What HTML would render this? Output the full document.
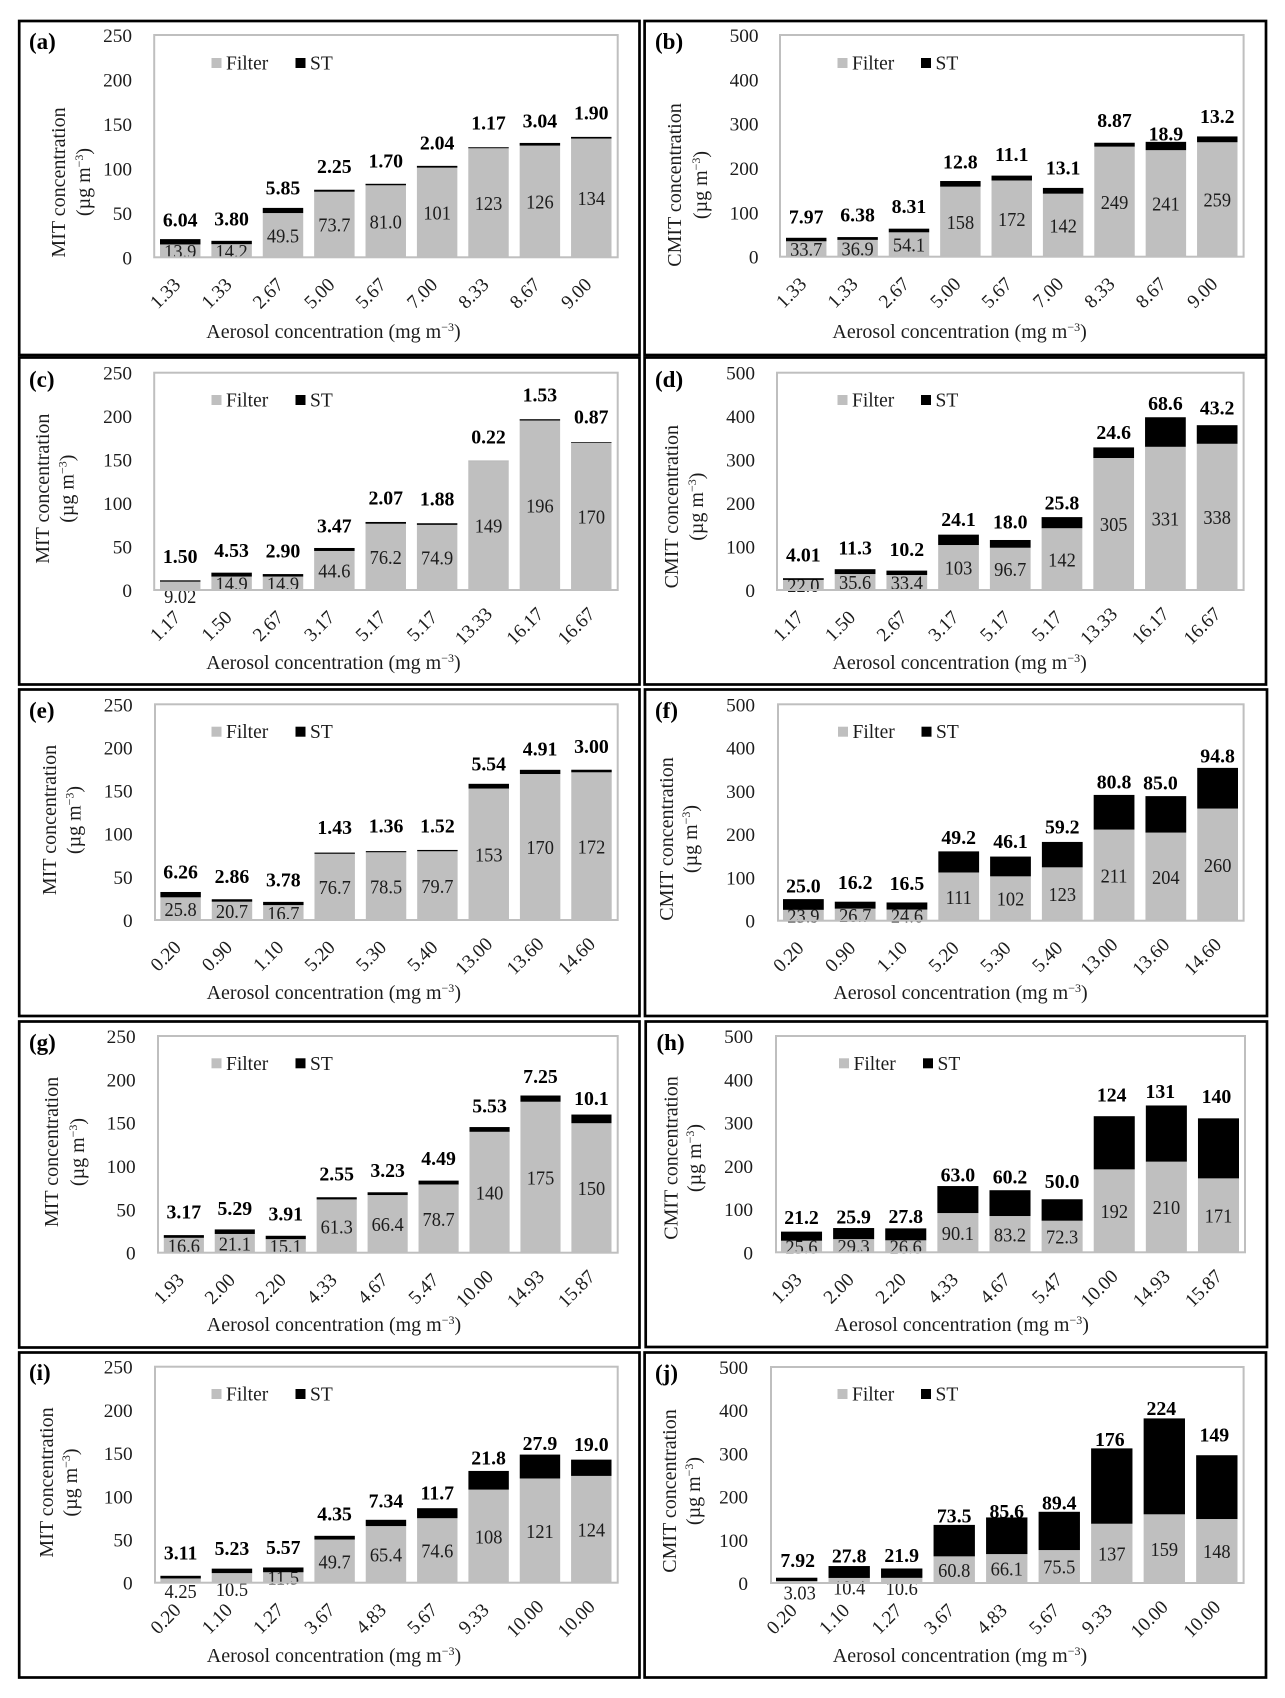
<!DOCTYPE html>
<html lang="en">
<head>
<meta charset="utf-8">
<title>MIT and CMIT concentration versus aerosol concentration</title>
<style>
html,body{margin:0;padding:0;background:#fff;width:1285px;height:1698px;overflow:hidden}
svg{display:block;font-family:"Liberation Serif","Times New Roman",serif;fill:#1c1c1c;filter:blur(0.35px)}
.box{fill:#fff;stroke:#000;stroke-width:2.7}
.letter{font-size:23px;font-weight:bold;fill:#000}
.legend{font-size:19.5px}
.title{font-size:20px}
.title tspan.sup{font-size:12px}
.tick{font-size:19.3px}
.flabel{font-size:20px;text-anchor:middle}
.slabel{font-size:19.8px;font-weight:bold;text-anchor:middle;fill:#000}
</style>
</head>
<body>
<svg id="figure" xmlns="http://www.w3.org/2000/svg" width="1285" height="1698" viewBox="0 0 1285 1698">
<rect width="1285" height="1698" fill="#fff"/>

<g id="panel-a">
<rect class="box" x="19.2" y="21" width="620.3" height="334"/>
<text class="letter" x="29" y="49">(a)</text>
<g><rect x="211.5" y="58" width="10" height="10" fill="#bfbfbf"/><text class="legend" x="226" y="69.5">Filter</text><rect x="295.5" y="58" width="10" height="10" fill="#000"/><text class="legend" x="310" y="69.5">ST</text></g>
<text class="title" x="333.5" y="338" text-anchor="middle">Aerosol concentration (mg m<tspan class="sup" dy="-7">−3</tspan><tspan dy="7">)</tspan></text>
<text class="title" transform="translate(65,182.5) rotate(-90)" text-anchor="middle">MIT concentration</text>
<text class="title" transform="translate(90,182) rotate(-90)" text-anchor="middle">(µg m<tspan class="sup" dy="-7">−3</tspan><tspan dy="7">)</tspan></text>
</g>

<g id="panel-b">
<rect class="box" x="644.6" y="21" width="621.4" height="334"/>
<text class="letter" x="655" y="49">(b)</text>
<g><rect x="837.5" y="58" width="10" height="10" fill="#bfbfbf"/><text class="legend" x="852" y="69.5">Filter</text><rect x="921" y="58" width="10" height="10" fill="#000"/><text class="legend" x="935.5" y="69.5">ST</text></g>
<text class="title" x="959.6" y="338" text-anchor="middle">Aerosol concentration (mg m<tspan class="sup" dy="-7">−3</tspan><tspan dy="7">)</tspan></text>
<text class="title" transform="translate(681,185) rotate(-90)" text-anchor="middle">CMIT concentration</text>
<text class="title" transform="translate(707,185) rotate(-90)" text-anchor="middle">(µg m<tspan class="sup" dy="-7">−3</tspan><tspan dy="7">)</tspan></text>
</g>

<g id="panel-c">
<rect class="box" x="19.2" y="357.5" width="620.3" height="327"/>
<text class="letter" x="29" y="387">(c)</text>
<g><rect x="211.5" y="395" width="10" height="10" fill="#bfbfbf"/><text class="legend" x="226" y="406.5">Filter</text><rect x="295.5" y="395" width="10" height="10" fill="#000"/><text class="legend" x="310" y="406.5">ST</text></g>
<text class="title" x="333.5" y="669" text-anchor="middle">Aerosol concentration (mg m<tspan class="sup" dy="-7">−3</tspan><tspan dy="7">)</tspan></text>
<text class="title" transform="translate(49,488.7) rotate(-90)" text-anchor="middle">MIT concentration</text>
<text class="title" transform="translate(73.6,488.7) rotate(-90)" text-anchor="middle">(µg m<tspan class="sup" dy="-7">−3</tspan><tspan dy="7">)</tspan></text>
</g>

<g id="panel-d">
<rect class="box" x="644.6" y="357.5" width="621.4" height="327"/>
<text class="letter" x="655" y="387">(d)</text>
<g><rect x="837.5" y="395" width="10" height="10" fill="#bfbfbf"/><text class="legend" x="852" y="406.5">Filter</text><rect x="921" y="395" width="10" height="10" fill="#000"/><text class="legend" x="935.5" y="406.5">ST</text></g>
<text class="title" x="959.6" y="669" text-anchor="middle">Aerosol concentration (mg m<tspan class="sup" dy="-7">−3</tspan><tspan dy="7">)</tspan></text>
<text class="title" transform="translate(678,506.7) rotate(-90)" text-anchor="middle">CMIT concentration</text>
<text class="title" transform="translate(703,506.7) rotate(-90)" text-anchor="middle">(µg m<tspan class="sup" dy="-7">−3</tspan><tspan dy="7">)</tspan></text>
</g>

<g id="panel-e">
<rect class="box" x="19.2" y="689.5" width="620.3" height="326.5"/>
<text class="letter" x="29" y="718">(e)</text>
<g><rect x="211.5" y="726.7" width="10" height="10" fill="#bfbfbf"/><text class="legend" x="226" y="738.2">Filter</text><rect x="295.5" y="726.7" width="10" height="10" fill="#000"/><text class="legend" x="310" y="738.2">ST</text></g>
<text class="title" x="333.8" y="999" text-anchor="middle">Aerosol concentration (mg m<tspan class="sup" dy="-7">−3</tspan><tspan dy="7">)</tspan></text>
<text class="title" transform="translate(56,820) rotate(-90)" text-anchor="middle">MIT concentration</text>
<text class="title" transform="translate(80.6,820) rotate(-90)" text-anchor="middle">(µg m<tspan class="sup" dy="-7">−3</tspan><tspan dy="7">)</tspan></text>
</g>

<g id="panel-f">
<rect class="box" x="645" y="689.5" width="622" height="326.5"/>
<text class="letter" x="655" y="718">(f)</text>
<g><rect x="838" y="726.7" width="10" height="10" fill="#bfbfbf"/><text class="legend" x="852.5" y="738.2">Filter</text><rect x="921.5" y="726.7" width="10" height="10" fill="#000"/><text class="legend" x="936" y="738.2">ST</text></g>
<text class="title" x="960.5" y="999" text-anchor="middle">Aerosol concentration (mg m<tspan class="sup" dy="-7">−3</tspan><tspan dy="7">)</tspan></text>
<text class="title" transform="translate(673,839) rotate(-90)" text-anchor="middle">CMIT concentration</text>
<text class="title" transform="translate(697,839) rotate(-90)" text-anchor="middle">(µg m<tspan class="sup" dy="-7">−3</tspan><tspan dy="7">)</tspan></text>
</g>

<g id="panel-g">
<rect class="box" x="19.2" y="1021.5" width="620.3" height="326"/>
<text class="letter" x="29" y="1050">(g)</text>
<g><rect x="211.5" y="1058.3" width="10" height="10" fill="#bfbfbf"/><text class="legend" x="226" y="1069.8">Filter</text><rect x="295.5" y="1058.3" width="10" height="10" fill="#000"/><text class="legend" x="310" y="1069.8">ST</text></g>
<text class="title" x="334" y="1331" text-anchor="middle">Aerosol concentration (mg m<tspan class="sup" dy="-7">−3</tspan><tspan dy="7">)</tspan></text>
<text class="title" transform="translate(58,1152) rotate(-90)" text-anchor="middle">MIT concentration</text>
<text class="title" transform="translate(84,1152) rotate(-90)" text-anchor="middle">(µg m<tspan class="sup" dy="-7">−3</tspan><tspan dy="7">)</tspan></text>
</g>

<g id="panel-h">
<rect class="box" x="645.7" y="1021.5" width="621.3" height="325.5"/>
<text class="letter" x="656.5" y="1050">(h)</text>
<g><rect x="839" y="1058.3" width="10" height="10" fill="#bfbfbf"/><text class="legend" x="853.5" y="1069.8">Filter</text><rect x="923" y="1058.3" width="10" height="10" fill="#000"/><text class="legend" x="937.5" y="1069.8">ST</text></g>
<text class="title" x="961.7" y="1331" text-anchor="middle">Aerosol concentration (mg m<tspan class="sup" dy="-7">−3</tspan><tspan dy="7">)</tspan></text>
<text class="title" transform="translate(677.5,1158) rotate(-90)" text-anchor="middle">CMIT concentration</text>
<text class="title" transform="translate(701,1158) rotate(-90)" text-anchor="middle">(µg m<tspan class="sup" dy="-7">−3</tspan><tspan dy="7">)</tspan></text>
</g>

<g id="panel-i">
<rect class="box" x="19.2" y="1352.5" width="620.3" height="325"/>
<text class="letter" x="29" y="1380">(i)</text>
<g><rect x="211.5" y="1389" width="10" height="10" fill="#bfbfbf"/><text class="legend" x="226" y="1400.5">Filter</text><rect x="295.5" y="1389" width="10" height="10" fill="#000"/><text class="legend" x="310" y="1400.5">ST</text></g>
<text class="title" x="334" y="1662" text-anchor="middle">Aerosol concentration (mg m<tspan class="sup" dy="-7">−3</tspan><tspan dy="7">)</tspan></text>
<text class="title" transform="translate(53,1482.5) rotate(-90)" text-anchor="middle">MIT concentration</text>
<text class="title" transform="translate(77,1482.5) rotate(-90)" text-anchor="middle">(µg m<tspan class="sup" dy="-7">−3</tspan><tspan dy="7">)</tspan></text>
</g>

<g id="panel-j">
<rect class="box" x="644.6" y="1352.5" width="621.4" height="325"/>
<text class="letter" x="655" y="1380.7">(j)</text>
<g><rect x="837.5" y="1389" width="10" height="10" fill="#bfbfbf"/><text class="legend" x="852" y="1400.5">Filter</text><rect x="921" y="1389" width="10" height="10" fill="#000"/><text class="legend" x="935.5" y="1400.5">ST</text></g>
<text class="title" x="960" y="1662" text-anchor="middle">Aerosol concentration (mg m<tspan class="sup" dy="-7">−3</tspan><tspan dy="7">)</tspan></text>
<text class="title" transform="translate(676,1491) rotate(-90)" text-anchor="middle">CMIT concentration</text>
<text class="title" transform="translate(700,1491) rotate(-90)" text-anchor="middle">(µg m<tspan class="sup" dy="-7">−3</tspan><tspan dy="7">)</tspan></text>
</g>
</svg>

<script>
// ---- chart data ----
const mitTicks = [0, 50, 100, 150, 200, 250];
const cmitTicks = [0, 100, 200, 300, 400, 500];

const aerosolA = ["1.33","1.33","2.67","5.00","5.67","7.00","8.33","8.67","9.00"];
const filterA = [13.9,14.2,49.5,73.7,81.0,101,123,126,134];
const stA = [6.04,3.80,5.85,2.25,1.70,2.04,1.17,3.04,1.90];

const aerosolB = ["1.33","1.33","2.67","5.00","5.67","7.00","8.33","8.67","9.00"];
const filterB = [33.7,36.9,54.1,158,172,142,249,241,259];
const stB = [7.97,6.38,8.31,12.8,11.1,13.1,8.87,18.9,13.2];

const aerosolC = ["1.17","1.50","2.67","3.17","5.17","5.17","13.33","16.17","16.67"];
const filterC = [9.02,14.9,14.9,44.6,76.2,74.9,149,196,170];
const stC = [1.50,4.53,2.90,3.47,2.07,1.88,0.22,1.53,0.87];

const aerosolD = ["1.17","1.50","2.67","3.17","5.17","5.17","13.33","16.17","16.67"];
const filterD = [22.0,35.6,33.4,103,96.7,142,305,331,338];
const stD = [4.01,11.3,10.2,24.1,18.0,25.8,24.6,68.6,43.2];

const aerosolE = ["0.20","0.90","1.10","5.20","5.30","5.40","13.00","13.60","14.60"];
const filterE = [25.8,20.7,16.7,76.7,78.5,79.7,153,170,172];
const stE = [6.26,2.86,3.78,1.43,1.36,1.52,5.54,4.91,3.00];

const aerosolF = ["0.20","0.90","1.10","5.20","5.30","5.40","13.00","13.60","14.60"];
const filterF = [23.9,26.7,24.6,111,102,123,211,204,260];
const stF = [25.0,16.2,16.5,49.2,46.1,59.2,80.8,85.0,94.8];

const aerosolG = ["1.93","2.00","2.20","4.33","4.67","5.47","10.00","14.93","15.87"];
const filterG = [16.6,21.1,15.1,61.3,66.4,78.7,140,175,150];
const stG = [3.17,5.29,3.91,2.55,3.23,4.49,5.53,7.25,10.1];

const aerosolH = ["1.93","2.00","2.20","4.33","4.67","5.47","10.00","14.93","15.87"];
const filterH = [25.6,29.3,26.6,90.1,83.2,72.3,192,210,171];
const stH = [21.2,25.9,27.8,63.0,60.2,50.0,124,131,140];

const aerosolI = ["0.20","1.10","1.27","3.67","4.83","5.67","9.33","10.00","10.00"];
const filterI = [4.25,10.5,11.5,49.7,65.4,74.6,108,121,124];
const stI = [3.11,5.23,5.57,4.35,7.34,11.7,21.8,27.9,19.0];

const aerosolJ = ["0.20","1.10","1.27","3.67","4.83","5.67","9.33","10.00","10.00"];
const filterJ = [3.03,10.4,10.6,60.8,66.1,75.5,137,159,148];
const stJ = [7.92,27.8,21.9,73.5,85.6,89.4,176,224,149];

// ---- layout (separate from the data) ----
const charts = [
 {id:'a',cats:aerosolA,filter:filterA,st:stA,ticks:mitTicks,frame:[154.2,35,617.7,257.3],bars:[160,611.5],tickR:132,
  lift:[19,22,20,23,23,23,24,22,24]},
 {id:'b',cats:aerosolB,filter:filterB,st:stB,ticks:cmitTicks,frame:[780,35,1243.6,256.7],bars:[786,1237.5],tickR:758.5,
  lift:[21,22,22,19,21,20,22,8,20]},
 {id:'c',cats:aerosolC,filter:filterC,st:stC,ticks:mitTicks,frame:[154.2,372.7,617.7,590],bars:[160,611.5],tickR:132,
  lift:[24,22,23,22,24,24,24,24,25],fDy:{0:11}},
 {id:'d',cats:aerosolD,filter:filterD,st:stD,ticks:cmitTicks,frame:[777,372.7,1243.6,590],bars:[783,1237.5],tickR:755,
  lift:[23,21,21,15,18,14,15,14,17]},
 {id:'e',cats:aerosolE,filter:filterE,st:stE,ticks:mitTicks,frame:[155,704.3,617.7,920],bars:[160.4,611.7],tickR:132.7,
  lift:[20,23,22,25,25,24,20,21,23]},
 {id:'f',cats:aerosolF,filter:filterF,st:stF,ticks:cmitTicks,frame:[778,704.3,1243.6,920.7],bars:[783,1238],tickR:755,
  lift:[13,19,19,14,15,15,13,13,12],sDx:{7:-5.4}},
 {id:'g',cats:aerosolG,filter:filterG,st:stG,ticks:mitTicks,frame:[158,1036,617.7,1252.7],bars:[163.8,611.5],tickR:135.6,
  lift:[23,21,22,23,22,22,21,19,16]},
 {id:'h',cats:aerosolH,filter:filterH,st:stH,ticks:cmitTicks,frame:[776,1036,1245,1252.3],bars:[781,1239],tickR:753,
  lift:[14,11,12,11,13,18,21,14,22],sDx:{6:-2.5,7:-6,8:-2}},
 {id:'i',cats:aerosolI,filter:filterI,st:stI,ticks:mitTicks,frame:[155,1366.7,617.7,1582.7],bars:[160.4,611.5],tickR:132.7,
  lift:[23,20,20,22,19,15,13,11,15],fDy:{0:11,1:11.5}},
 {id:'j',cats:aerosolJ,filter:filterJ,st:stJ,ticks:cmitTicks,frame:[771,1367,1243.6,1583],bars:[776,1237.5],tickR:748,
  lift:[17,10,13,9,6,9,9,10,20],fDy:{0:11,1:7.5,2:8},fDx:{0:3},sDx:{0:1,6:-2,7:-3,8:-2.5}}
];

const NS = 'http://www.w3.org/2000/svg';
const GAP = 0.27;

function fmt(v){ return v < 1 ? v.toFixed(2) : v.toPrecision(3); }

function mk(tag, parent, attrs, text){
  const el = document.createElementNS(NS, tag);
  for (const k in attrs) el.setAttribute(k, attrs[k]);
  if (text !== undefined) el.textContent = text;
  parent.appendChild(el);
  return el;
}

function drawChart(c){
  const panel = document.getElementById('panel-' + c.id);
  const [fl, ft, fr, fb] = c.frame;
  const max = c.ticks[c.ticks.length - 1];
  const n = c.cats.length;
  const bw = (c.bars[1] - c.bars[0]) / (n + (n - 1) * GAP);
  const step = bw * (1 + GAP);
  const y0 = fb - 0.6, yT = ft + 1.3;
  const yScale = v => y0 - (v / max) * (y0 - yT);
  const xScale = i => c.bars[0] + i * step;
  const tickY = v => fb - (v / max) * (fb - ft) + 0.7;

  c.ticks.forEach(t => {
    const el = mk('text', panel, {class:'tick', x:c.tickR, y:tickY(t) + 6.3, 'text-anchor':'end'}, String(t));
    
    
  });

  c.cats.forEach((cat, i) => {
    const cx = xScale(i) + bw / 2;
    const el = mk('text', panel, {class:'tick', 'text-anchor':'middle', y:6.3,
      transform:'translate(' + (cx - 15) + ',' + (fb + 36) + ') rotate(-45)'}, cat);
    
    
  });

  c.filter.forEach((v, i) => {
    const top = yScale(v);
    const el = mk('rect', panel, {x:xScale(i), y:top, width:bw, height:y0 - top, fill:'#bfbfbf'});
    
    
  });

  c.filter.forEach((v, i) => {
    const dy = (c.fDy && c.fDy[i] !== undefined) ? c.fDy[i] : 0.8;
    const dx = (c.fDx && c.fDx[i]) || 0;
    const cy = (yScale(v) + y0) / 2 + dy;
    const el = mk('text', panel, {class:'flabel',
      transform:'translate(' + (xScale(i) + bw / 2 + dx) + ',' + (cy + 6.7) + ') scale(0.92,1)'}, fmt(v));
    
    
  });

  c.st.forEach((v, i) => {
    const bottom = yScale(c.filter[i]);
    const top = yScale(c.filter[i] + v);
    const el = mk('rect', panel, {x:xScale(i), y:top, width:bw, height:bottom - top, fill:'#000'});
    
    
  });

  c.st.forEach((v, i) => {
    const top = yScale(c.filter[i] + v);
    const dx = (c.sDx && c.sDx[i]) || 0;
    const el = mk('text', panel, {class:'slabel', x:xScale(i) + bw / 2 + dx, y:top - c.lift[i] + 6.5}, fmt(v));
    
    
  });

  const frame = mk('rect', panel, {x:fl, y:ft, width:fr - fl, height:fb - ft, fill:'none', stroke:'#bfbfbf', 'stroke-width':2});
  
  
}

charts.forEach(drawChart);
</script>
</body>
</html>
